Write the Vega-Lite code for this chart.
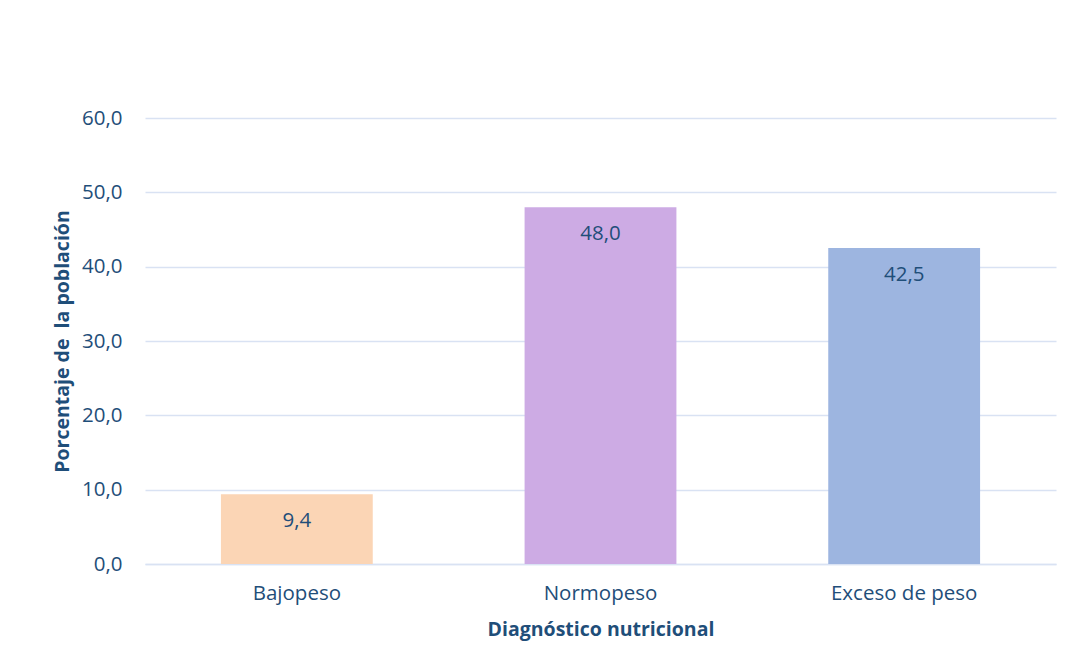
{
  "$schema": "https://vega.github.io/schema/vega-lite/v6.json",
  "width": 911,
  "height": 446,
  "autosize": {"type": "none"},
  "padding": {"left": 145, "top": 118, "right": 17, "bottom": 108},
  "background": "white",
  "config": {
    "locale": {"number": {"decimal": ",", "thousands": ".", "grouping": [3], "currency": ["", " €"]}},
    "view": {"stroke": null},
    "font": "Open Sans"
  },
  "data": {
    "values": [
      {"diagnostico": "Bajopeso", "porcentaje": 9.4},
      {"diagnostico": "Normopeso", "porcentaje": 48.0},
      {"diagnostico": "Exceso de peso", "porcentaje": 42.5}
    ]
  },
  "encoding": {
    "x": {
      "field": "diagnostico",
      "type": "nominal",
      "sort": null,
      "scale": {"paddingInner": 0.5, "paddingOuter": 0.25},
      "axis": {
        "title": "Diagnóstico nutricional",
        "titleFont": "Open Sans",
        "titleFontSize": 19.5,
        "titleFontWeight": "bold",
        "titleColor": "#1F4E79",
        "titlePadding": 17,
        "labelAngle": 0,
        "labelFontSize": 20.5,
        "labelColor": "#1F4E79",
        "labelPadding": 19,
        "ticks": false,
        "domainColor": "#D9E2F3",
        "domainWidth": 1.5
      }
    },
    "y": {
      "field": "porcentaje",
      "type": "quantitative",
      "scale": {"domain": [0, 60]},
      "axis": {
        "title": "Porcentaje de\u00a0 la población",
        "titleFont": "Open Sans",
        "titleFontSize": 19.5,
        "titleFontWeight": "bold",
        "titleColor": "#1F4E79",
        "titlePadding": 9,
        "values": [0, 10, 20, 30, 40, 50, 60],
        "format": ".1f",
        "labelFontSize": 20.5,
        "labelColor": "#1F4E79",
        "labelPadding": 23,
        "ticks": false,
        "domain": false,
        "grid": true,
        "gridColor": "#D9E2F3",
        "gridWidth": 1.5
      }
    }
  },
  "layer": [
    {
      "mark": {"type": "bar"},
      "encoding": {
        "color": {
          "field": "diagnostico",
          "type": "nominal",
          "sort": null,
          "scale": {
            "domain": ["Bajopeso", "Normopeso", "Exceso de peso"],
            "range": ["#FBD5B5", "#CDABE4", "#9DB5E0"]
          },
          "legend": null
        }
      }
    },
    {
      "mark": {"type": "text", "baseline": "middle", "dy": 27, "fontSize": 20.5, "color": "#1F4E79"},
      "encoding": {
        "text": {"field": "porcentaje", "type": "quantitative", "format": ".1f"}
      }
    }
  ]
}
